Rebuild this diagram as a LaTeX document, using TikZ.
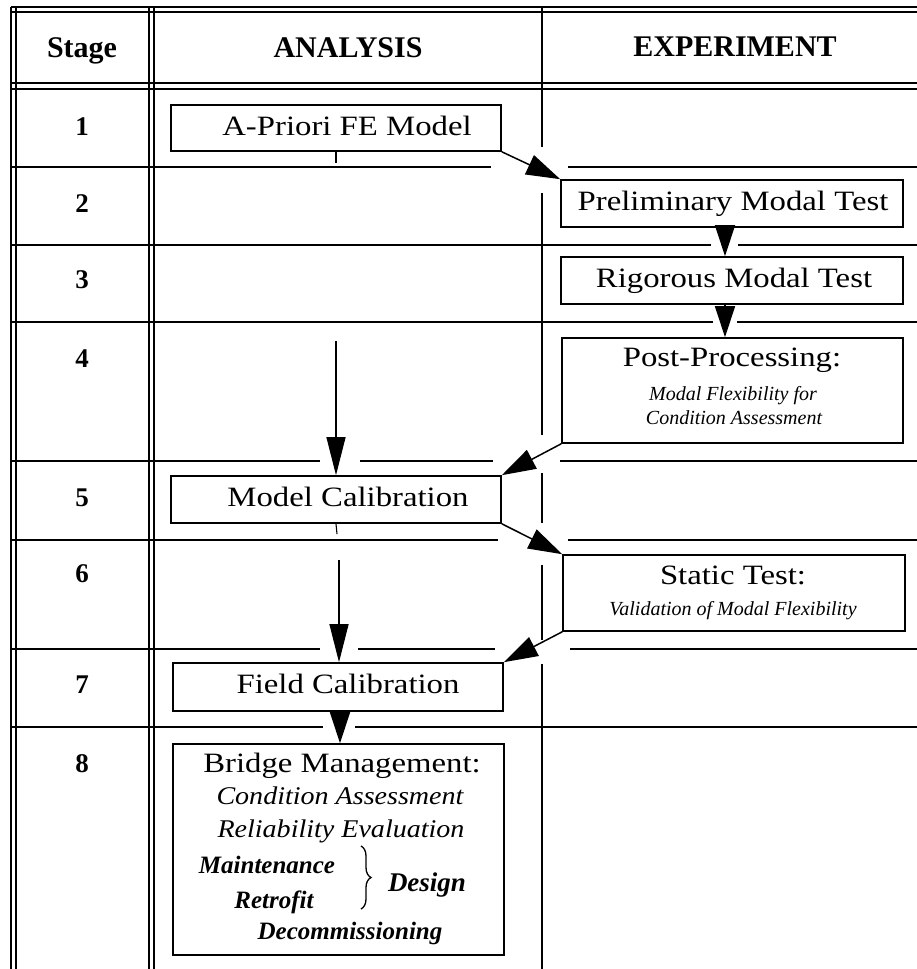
\documentclass[tikz,border=0pt]{standalone}
\usepackage{fontspec}
\setmainfont{Liberation Serif}
\newfontfamily\wideserif{Liberation Serif}[FakeStretch=1.17]
\newfontfamily\midserif{Liberation Serif}[FakeStretch=1.1]
\usetikzlibrary{arrows.meta,decorations.pathreplacing}
\begin{document}
\begin{tikzpicture}[x=1pt,y=-1pt,
  box/.style={draw,line width=1.6pt,rectangle,inner sep=0pt},
  ttl/.style={anchor=base,inner sep=0pt,font=\wideserif\fontsize{28}{30}\selectfont},
  sub/.style={anchor=base,inner sep=0pt,font=\itshape\fontsize{20}{22}\selectfont},
  bri/.style={anchor=base,inner sep=0pt,font=\midserif\itshape\fontsize{25.5}{27}\selectfont},
  brb/.style={anchor=base,inner sep=0pt,font=\bfseries\itshape\fontsize{25}{27}\selectfont},
  hdr/.style={anchor=base,inner sep=0pt,font=\bfseries\fontsize{30}{32}\selectfont},
  num/.style={anchor=base,inner sep=0pt,font=\bfseries\fontsize{27}{29}\selectfont},
  rowline/.style={line width=2.6pt},
  dbl/.style={line width=1.6pt},
  divline/.style={line width=2.2pt},
  arr/.style={line width=1.5pt,-{Triangle[length=34pt,width=21pt]}},
  arrv/.style={line width=1.5pt,-{Triangle[length=31pt,width=20pt]}},
  arrlong/.style={line width=1.1pt,-{Triangle[length=38pt,width=19pt]}},
  tick/.style={line width=1.1pt}]

\fill[white] (0,0) rectangle (917,969);
\useasboundingbox (0,0) rectangle (917,969);

% frame: top and header double lines
\draw[dbl] (11,7) -- (917,7);
\draw[dbl] (11,12) -- (917,12);
\draw[dbl] (11,83) -- (917,83);
\draw[dbl] (11,89) -- (917,89);

% row separators
\draw[rowline] (11,167) -- (491,167); \draw[rowline] (568,167) -- (917,167);
\draw[rowline] (11,245) -- (711,245); \draw[rowline] (738,245) -- (917,245);
\draw[rowline] (11,322) -- (713,322); \draw[rowline] (737,322) -- (917,322);
\draw[rowline] (11,461) -- (320,461); \draw[rowline] (360,461) -- (493,461); \draw[rowline] (560,461) -- (917,461);
\draw[rowline] (11,540) -- (498,540); \draw[rowline] (568,540) -- (917,540);
\draw[rowline] (11,649) -- (320,649); \draw[rowline] (358,649) -- (495,649); \draw[rowline] (570,649) -- (917,649);
\draw[rowline] (11,727) -- (323,727); \draw[rowline] (355,727) -- (917,727);

% vertical double lines
\draw[dbl] (11,7) -- (11,969);
\draw[dbl] (16,7) -- (16,969);
\draw[dbl] (149,7) -- (149,969);
\draw[dbl] (154,7) -- (154,969);

% analysis / experiment divider
\draw[divline] (542,7) -- (542,147);
\draw[divline] (542,193) -- (542,435);
\draw[divline] (542,473) -- (542,523);
\draw[divline] (542,565) -- (542,640);
\draw[divline] (542,664) -- (542,969);

% headers
\node[hdr] (hstage) at (82,57) {Stage};
\node[hdr] (hana) at (348,57) {ANALYSIS};
\node[hdr] (hexp) at (735,56) {EXPERIMENT};

% stage numbers
\node[num] (n1) at (82,135) {1};
\node[num] (n2) at (82,212) {2};
\node[num] (n3) at (82,288) {3};
\node[num] (n4) at (82,367) {4};
\node[num] (n5) at (82,506) {5};
\node[num] (n6) at (82,582) {6};
\node[num] (n7) at (82,693) {7};
\node[num] (n8) at (82,772) {8};

% boxes
\node[box,minimum width=330pt,minimum height=46pt] (apriori) at (336,128) {};
\node[box,minimum width=342pt,minimum height=47pt] (prelim) at (732,203.5) {};
\node[box,minimum width=342pt,minimum height=47pt] (rigorous) at (732,280.5) {};
\node[box,minimum width=341pt,minimum height=105pt] (post) at (732.5,390.5) {};
\node[box,minimum width=330pt,minimum height=47pt] (modelcal) at (336,499.5) {};
\node[box,minimum width=342pt,minimum height=76pt] (static) at (734,593) {};
\node[box,minimum width=330pt,minimum height=48pt] (field) at (338,687) {};
\node[box,minimum width=331pt,minimum height=211pt] (bridge) at (338.5,849.5) {};

% box texts
\node[ttl] (tapriori) at (347,135) {A-Priori FE Model};
\node[ttl] (tprelim) at (733,210) {Preliminary Modal Test};
\node[ttl] (trig) at (734,287) {Rigorous Modal Test};
\node[ttl] (tpost) at (732,366) {Post-Processing:};
\node[sub] (tpost2) at (733,400) {Modal Flexibility for};
\node[sub] (tpost3) at (734,424) {Condition Assessment};
\node[ttl] (tmodel) at (348,506) {Model Calibration};
\node[ttl] (tstatic) at (733,584) {Static Test:};
\node[sub] (tstatic2) at (733,615) {Validation of Modal Flexibility};
\node[ttl] (tfield) at (348,693) {Field Calibration};
\node[ttl] (tbridge) at (342,772) {Bridge Management:};
\node[bri] (tb1) at (340,804) {Condition Assessment};
\node[bri] (tb2) at (341,837) {Reliability Evaluation};
\node[brb] (tb3) at (267,873) {Maintenance};
\node[brb] (tb4) at (274,908) {Retrofit};
\node[brb,font=\bfseries\itshape\fontsize{27}{29}\selectfont] (tb5) at (427,891) {Design};
\node[brb] (tb6) at (350,939) {Decommissioning};
\coordinate (bra) at (361,846);
\coordinate (brz) at (361,909);
\draw[line width=1.3pt,decorate,decoration={brace,amplitude=10pt}] (bra) -- (brz);

% connectors
\draw[arr] (apriori.south east) -- (prelim.north west);
\draw[arrv] ([xshift=-7pt]prelim.south) -- ([xshift=-7pt]rigorous.north);
\draw[arrv] ([xshift=-7pt]rigorous.south) -- ([xshift=-7.5pt]post.north);
\draw[arr] (post.south west) -- (modelcal.north east);
\draw[arr] (modelcal.south east) -- (static.north west);
\draw[arr] (static.south west) -- (field.north east);
\draw[arrv] ([xshift=2pt]field.south) -- ([xshift=1.5pt]bridge.north);

\coordinate (s1) at (336,341);
\draw[arrlong] (s1) -- (modelcal.north);
\coordinate (s2) at (339,560);
\draw[arrlong] (s2) -- ([xshift=1pt]field.north);

\coordinate (t1) at (336,163);
\draw[tick] (apriori.south) -- (t1);
\coordinate (t2) at (337,534);
\draw[tick] (modelcal.south) -- (t2);
\end{tikzpicture}
\end{document}
